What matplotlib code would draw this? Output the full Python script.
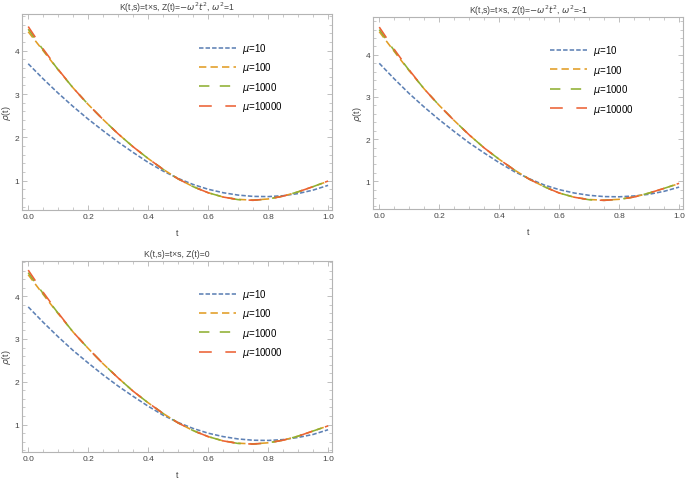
import matplotlib
matplotlib.use("Agg")
import matplotlib.pyplot as plt
from matplotlib.ticker import MultipleLocator

plt.rcParams['font.family'] = ['Liberation Sans', 'DejaVu Sans']
plt.rcParams['mathtext.fontset'] = 'dejavusans'

t = [0.00, 0.05, 0.10, 0.15, 0.20, 0.25, 0.30, 0.35, 0.40, 0.45, 0.50,
     0.55, 0.60, 0.65, 0.70, 0.75, 0.80, 0.85, 0.90, 0.95, 1.00]

labels = ["$\\mu$=10", "$\\mu$=100", "$\\mu$=1000", "$\\mu$=10000"]

# Panel 1: omega^2 = 1
p1_mu10 = [3.70, 3.35, 3.02, 2.71, 2.42, 2.15, 1.89, 1.65, 1.42, 1.22, 1.05,
           0.91, 0.80, 0.72, 0.665, 0.635, 0.63, 0.65, 0.70, 0.78, 0.89]
p1_mu100 = [4.44, 4.00, 3.56, 3.14, 2.76, 2.41, 2.08, 1.78, 1.51, 1.26, 1.04,
            0.86, 0.72, 0.62, 0.565, 0.55, 0.575, 0.64, 0.74, 0.86, 0.985]
p1_mu1000 = [4.50, 4.02, 3.56, 3.14, 2.76, 2.41, 2.08, 1.78, 1.51, 1.26, 1.04,
             0.86, 0.72, 0.62, 0.56, 0.545, 0.575, 0.64, 0.74, 0.86, 0.99]
p1_mu10000 = [4.56, 4.04, 3.57, 3.14, 2.76, 2.41, 2.08, 1.78, 1.51, 1.26, 1.04,
              0.86, 0.72, 0.62, 0.56, 0.545, 0.575, 0.64, 0.74, 0.86, 0.99]

# Panel 2: omega^2 = -1
p2_mu10 = [3.80, 3.43, 3.08, 2.76, 2.46, 2.18, 1.91, 1.67, 1.44, 1.23, 1.06,
           0.91, 0.80, 0.72, 0.665, 0.635, 0.63, 0.65, 0.69, 0.76, 0.86]
p2_mu100 = [4.55, 4.08, 3.62, 3.19, 2.80, 2.44, 2.10, 1.79, 1.52, 1.27, 1.05,
            0.87, 0.72, 0.62, 0.565, 0.55, 0.57, 0.625, 0.72, 0.83, 0.945]
p2_mu1000 = [4.60, 4.10, 3.63, 3.19, 2.80, 2.44, 2.10, 1.79, 1.52, 1.27, 1.05,
             0.87, 0.72, 0.62, 0.56, 0.545, 0.57, 0.625, 0.72, 0.83, 0.95]
p2_mu10000 = [4.66, 4.13, 3.64, 3.19, 2.80, 2.44, 2.10, 1.79, 1.52, 1.27, 1.05,
              0.87, 0.72, 0.62, 0.56, 0.545, 0.57, 0.625, 0.72, 0.83, 0.95]

# Panel 3: Z(t) = 0
p3_mu10 = [3.75, 3.39, 3.05, 2.73, 2.44, 2.16, 1.90, 1.66, 1.43, 1.22, 1.05,
           0.91, 0.80, 0.72, 0.665, 0.635, 0.63, 0.65, 0.70, 0.77, 0.88]
p3_mu100 = [4.50, 4.04, 3.59, 3.16, 2.78, 2.42, 2.09, 1.78, 1.51, 1.26, 1.04,
            0.86, 0.72, 0.62, 0.565, 0.55, 0.575, 0.635, 0.73, 0.85, 0.97]
p3_mu1000 = [4.55, 4.06, 3.60, 3.16, 2.78, 2.42, 2.09, 1.78, 1.51, 1.26, 1.04,
             0.86, 0.72, 0.62, 0.56, 0.545, 0.575, 0.635, 0.73, 0.85, 0.97]
p3_mu10000 = [4.61, 4.09, 3.61, 3.16, 2.78, 2.42, 2.09, 1.78, 1.51, 1.26, 1.04,
              0.86, 0.72, 0.62, 0.56, 0.545, 0.575, 0.635, 0.73, 0.85, 0.97]

titles = ["K(t,s)=t×s, Z(t)=$-\\omega^2 t^2$, $\\omega^2$=1",
          "K(t,s)=t×s, Z(t)=$-\\omega^2 t^2$, $\\omega^2$=-1",
          "K(t,s)=t×s, Z(t)=0"]

colors = ["#5E81B5", "#E19C24", "#8FB032", "#EB6235"]
dashes = [(2.8, 1.3), (4.6, 2.6), (6.5, 6.5), (8.0, 8.5)]

panels = [
    ([0.032, 0.5613, 0.4526, 0.4075], (0.32, 4.85), [p1_mu10, p1_mu100, p1_mu1000, p1_mu10000]),
    ([0.5445, 0.5634, 0.4526, 0.3992], (0.34, 4.90), [p2_mu10, p2_mu100, p2_mu1000, p2_mu10000]),
    ([0.032, 0.0582, 0.4526, 0.3978], (0.36, 4.83), [p3_mu10, p3_mu100, p3_mu1000, p3_mu10000]),
]

fig = plt.figure(figsize=(6.85, 4.81), dpi=100)
frame_col = "#b4b4b4"
for i, (pos, ylim, series) in enumerate(panels):
    ax = fig.add_axes(pos)
    for s, c, d, lab in zip(series, colors, dashes, labels):
        ax.plot(t, s, color=c, lw=1.15, dashes=d, label=lab)
    ax.set_xlim(-0.021, 1.013)
    ax.set_ylim(*ylim)
    ax.xaxis.set_major_locator(MultipleLocator(0.2))
    ax.xaxis.set_minor_locator(MultipleLocator(0.05))
    ax.yaxis.set_major_locator(MultipleLocator(1))
    ax.yaxis.set_minor_locator(MultipleLocator(0.2))
    ax.set_xticks([0.0, 0.2, 0.4, 0.6, 0.8, 1.0])
    ax.set_xticklabels(["0.0", "0.2", "0.4", "0.6", "0.8", "1.0"])
    for sp in ax.spines.values():
        sp.set_color(frame_col)
        sp.set_linewidth(0.8)
    ax.tick_params(which='both', direction='in', top=True, right=True,
                   color=frame_col, labelcolor="#444444", labelsize=6, pad=2)
    ax.tick_params(which='major', length=3.5, width=0.6)
    ax.tick_params(which='minor', length=2, width=0.5)
    ax.set_xlabel("t", fontsize=6.5, color="#444444", labelpad=6)
    ax.set_ylabel("$\\rho$(t)", fontsize=6.5, color="#444444", labelpad=1)
    ax.set_title(titles[i], fontsize=6.2, color="#444444", pad=3)
    ax.legend(loc='upper left', bbox_to_anchor=(0.572, 0.862), frameon=False,
              fontsize=7, handlelength=3.8, labelspacing=0.55,
              handletextpad=0.6, borderaxespad=0.0, borderpad=0.0)

fig.savefig("out.png", dpi=100)
